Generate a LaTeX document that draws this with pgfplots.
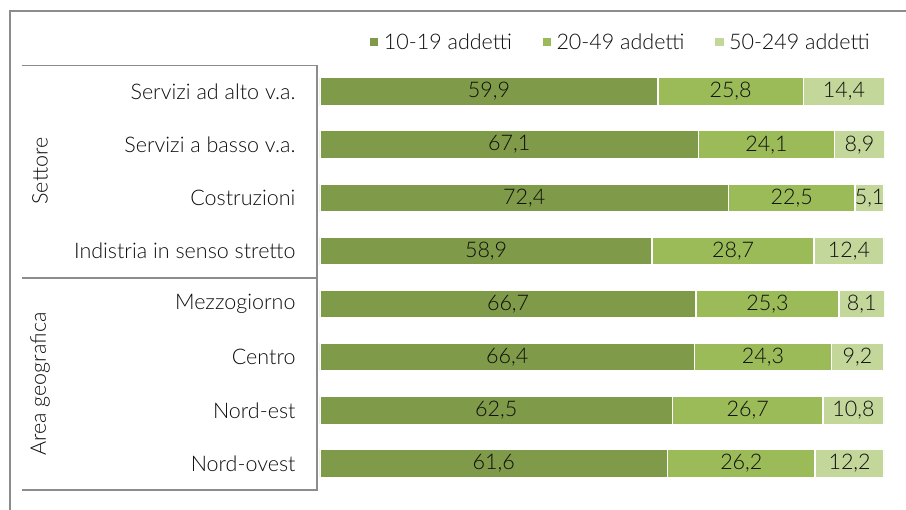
\documentclass[border=0pt]{standalone}
\usepackage{pgfplots}
\pgfplotsset{compat=1.18}
\usepackage{pgfplotstable}
\usepackage{fontspec}
\setmainfont{Lato Light}
\definecolor{gA}{HTML}{7F9A48}
\definecolor{gB}{HTML}{9BBB59}
\definecolor{gC}{HTML}{C4D79B}
\definecolor{frame}{HTML}{8C8C8C}
\definecolor{txt}{HTML}{0D0D0D}
\pgfplotstableread{
row a b c
0 59.9 25.8 14.4
1 67.1 24.1 8.9
2 72.4 22.5 5.1
3 58.9 28.7 12.4
4 66.7 25.3 8.1
5 66.4 24.3 9.2
6 62.5 26.7 10.8
7 61.6 26.2 12.2
}\datatable
\pgfplotstablecreatecol[create col/expr={\thisrow{a}/2}]{ma}{\datatable}
\pgfplotstablecreatecol[create col/expr={\thisrow{a}+\thisrow{b}/2}]{mb}{\datatable}
\pgfplotstablecreatecol[create col/expr={\thisrow{a}+\thisrow{b}+\thisrow{c}/2}]{mc}{\datatable}
\newcommand{\fs}{\fontsize{21.5}{24}\selectfont}
\pgfplotsset{
  common/.style={
    at={(320pt,20pt)}, anchor=south west,
    width=564pt, height=425pt, scale only axis,
    xmin=0, xmax=100, ymin=-0.5, ymax=7.5, y dir=reverse,
    /pgf/number format/assume math mode=true,
  }
}
\begin{document}
\begin{tikzpicture}
\useasboundingbox (0pt,0pt) rectangle (906pt,510pt);
% outer frame
\draw[frame, line width=1.3pt] (10pt,0pt) -- (10pt,499pt) -- (906pt,499pt);
% inner separators
\draw[frame, line width=1.3pt] (22pt,444.5pt) -- (317pt,444.5pt) -- (317pt,20pt) -- (22pt,20pt);
\draw[frame, line width=1.3pt] (22pt,232pt) -- (317pt,232pt);
\node[rotate=90, font=\fs, text=txt] at (40pt,339pt) {Settore};
\node[rotate=90, font=\fs, text=txt] at (40pt,126pt) {Area geografica};
\begin{axis}[
  common,
  xbar stacked, bar width=28pt,
  axis line style={draw=none},
  xtick=\empty, ytick={0,...,7},
  yticklabels={Servizi ad alto v.a.,Servizi a basso v.a.,Costruzioni,Indistria in senso stretto,Mezzogiorno,Centro,Nord-est,Nord-ovest},
  major tick length=0pt,
  yticklabel style={font=\fs, text=txt, xshift=-21pt},
  legend style={draw=none, fill=none, font=\fs, text=txt, at={(axis description cs:0.532,1.054)}, anchor=center, legend columns=-1,
    /tikz/every even column/.append style={column sep=27pt},
    /tikz/every odd column/.append style={column sep=2pt}},
  legend image code/.code={\fill[#1] (0pt,-5pt) rectangle (10pt,5pt);},
]
\addplot[fill=gA, draw=white, line width=1.5pt] table[x=a, y=row] {\datatable};
\addplot[fill=gB, draw=white, line width=1.5pt] table[x=b, y=row] {\datatable};
\addplot[fill=gC, draw=white, line width=1.5pt] table[x=c, y=row] {\datatable};
\legend{10-19 addetti,20-49 addetti,50-249 addetti}
\end{axis}
\begin{axis}[
  common, hide axis,
  nodes near coords={\pgfmathprintnumber[fixed,fixed zerofill,precision=1,use comma]{\pgfplotspointmeta}},
  every node near coord/.append style={font=\fs, text=txt, anchor=center},
  point meta=explicit,
]
\addplot[only marks, mark=none, draw=none] table[x=ma, y=row, meta=a] {\datatable};
\addplot[only marks, mark=none, draw=none] table[x=mb, y=row, meta=b] {\datatable};
\addplot[only marks, mark=none, draw=none] table[x=mc, y=row, meta=c] {\datatable};
\end{axis}
\end{tikzpicture}
\end{document}
